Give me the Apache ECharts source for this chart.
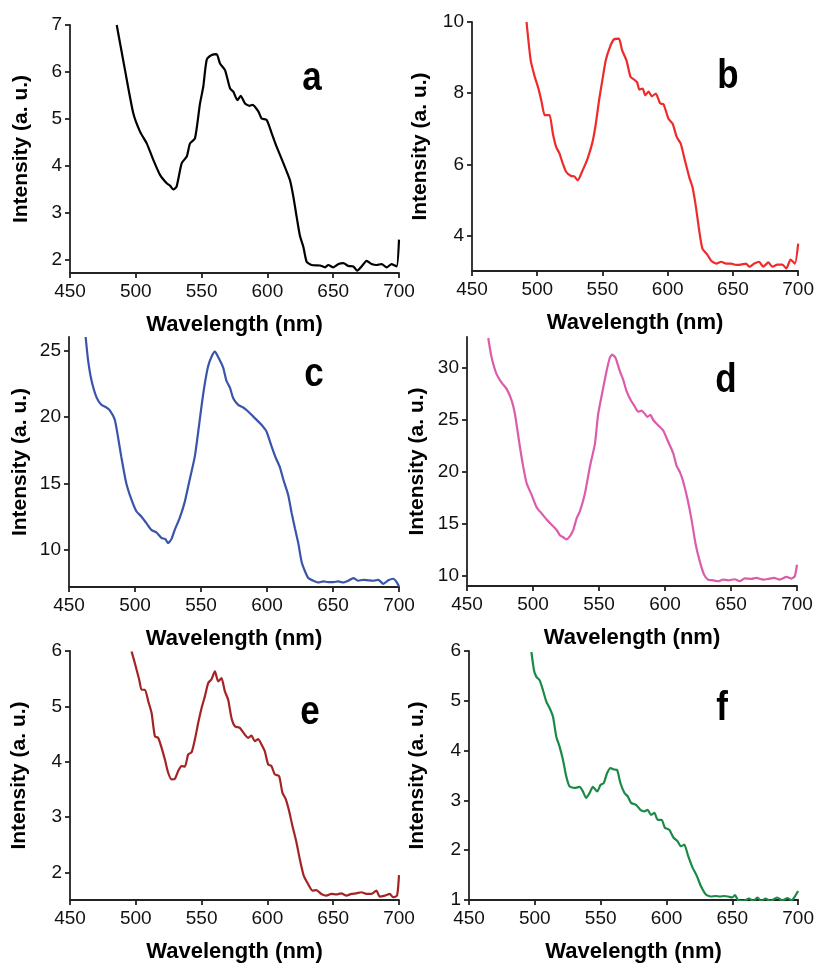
<!DOCTYPE html>
<html>
<head>
<meta charset="utf-8">
<script src="https://cdn.jsdelivr.net/npm/echarts@6/dist/echarts.min.js"></script>
<style>html,body{margin:0;padding:0;background:#fff}#c{width:817px;height:964px}</style>
</head>
<body>
<div id="c"></div>
<script>
// ---- data (wavelength nm, intensity a.u.) ----
const xTicks = [450, 500, 550, 600, 650, 700];

const waveA = [485.5,491.8,498.1,503.2,508.3,513.3,518.4,523.5,526,528.5,531,534.9,538.7,541.2,545,548.8,551.3,553.9,557.7,561.4,564,567.8,571.6,574.1,577.2,579.7,583,586.3,588.8,593.1,595.6,599.4,603.2,607,612.1,617.1,619.7,622.2,624.8,627.3,629.8,633.6,640,643.8,646.3,650.1,654,657.7,661.5,665.3,668.3,671.6,675.4,679.2,683,686.8,690.6,694.4,698.2,700];
const intA = [7.0,6.04,5.12,4.73,4.48,4.13,3.81,3.63,3.58,3.50,3.56,4.06,4.2,4.48,4.59,5.33,5.69,6.26,6.36,6.38,6.18,6.04,5.65,5.58,5.40,5.49,5.33,5.28,5.30,5.16,5.01,4.98,4.70,4.41,4.06,3.70,3.35,2.92,2.50,2.28,1.96,1.89,1.88,1.84,1.89,1.84,1.91,1.93,1.87,1.86,1.77,1.86,1.98,1.91,1.89,1.91,1.84,1.91,1.86,2.43];
const yTicksA = [2, 3, 4, 5, 6, 7];

const waveB = [491.8,495,498.1,500.6,503.1,505.7,507.7,509.5,512,514.5,517.1,519.6,522.1,525.9,528.4,531,534.8,538.6,542.4,544.9,547.4,549.9,552.5,555.8,558.8,562.6,565.1,568.4,571.5,574,576.5,578.3,580.8,582.8,585.4,587.9,590.9,594.2,596.8,600.6,603.8,606.9,610,613.2,616.5,619,621.6,624.1,626.6,630.2,633.5,637.2,641,644.8,648.6,652.4,656.2,660,662.6,666.4,670.1,673.2,677.2,680.3,684.1,687.9,690.9,694.2,697.5,700];
const intB = [10.0,8.92,8.46,8.17,7.80,7.38,7.38,7.38,6.86,6.49,6.30,6.02,5.79,5.67,5.66,5.55,5.83,6.16,6.63,7.14,7.80,8.36,8.92,9.30,9.51,9.53,9.20,8.92,8.46,8.39,8.31,8.10,8.13,7.94,8.04,7.91,7.99,7.71,7.69,7.28,7.14,6.77,6.58,6.11,5.64,5.36,4.81,4.15,3.63,3.47,3.28,3.21,3.26,3.21,3.21,3.17,3.18,3.21,3.12,3.21,3.26,3.12,3.24,3.12,3.18,3.18,3.07,3.32,3.21,3.77];
const yTicksB = [4, 6, 8, 10];

const waveC = [462.6,464.4,466.9,470.7,474.5,478.3,480.8,484.6,487.1,489.6,493.4,497.2,501,504.8,508.6,512.4,516.2,520,523,525,527.6,530.1,533.9,537.7,541.5,545.3,547.8,550.4,552.9,555.4,557.9,560.5,563,566.8,569.3,571.9,574.4,578.2,582,585.7,590.8,595.8,599.6,603.4,606.7,609.8,612.3,616.1,618.6,621.2,623.7,626.2,628.7,631.3,635.1,638.8,642.6,646.4,650.2,654,657.8,661.6,665.4,669.2,673,676.8,680.5,684.3,688.1,691.9,695.7,698.2,700];
const intC = [26.0,24.3,22.8,21.5,20.9,20.7,20.5,19.8,18.5,17.0,15.0,13.8,12.9,12.5,12.0,11.5,11.3,10.9,10.8,10.5,10.8,11.5,12.4,13.6,15.3,17.0,18.8,20.8,22.5,23.8,24.5,24.9,24.5,23.7,22.7,22.2,21.4,20.9,20.7,20.4,19.9,19.4,18.9,17.8,16.9,16.2,15.3,14.1,12.8,11.6,10.5,9.1,8.4,7.87,7.67,7.54,7.62,7.57,7.57,7.62,7.54,7.67,7.87,7.67,7.74,7.70,7.67,7.74,7.44,7.70,7.82,7.57,7.24];
const yTicksC = [10, 15, 20, 25];

const waveD = [466.1,468.2,469.9,472.5,476.2,480,483.8,486.3,490.1,492.6,495.2,498.9,502.7,506.5,510.3,514.1,517.9,520.4,522.9,525.4,528,530.5,533,535.5,539.3,543.1,546.9,549.4,553.2,555.7,558.2,560,562.5,565.8,568.3,570.8,574.1,577.1,579.7,582.2,584.7,586.7,589,591,594.8,598.6,602.4,606.2,608.7,611.2,613.7,617,620.1,623.1,626.3,629.6,632.6,636.4,640.2,644,647.8,652.8,656.6,660.4,665.4,669.2,674.3,678.1,682.6,686.9,692,695.8,698.3,700];
const intD = [32.9,31.3,30.4,29.4,28.6,28.0,26.9,25.6,22.4,20.5,18.9,17.8,16.6,16.0,15.4,14.9,14.4,13.9,13.7,13.5,13.8,14.4,15.5,16.2,17.9,20.5,22.7,25.6,28.1,29.7,31.0,31.3,31.0,29.7,28.9,27.8,26.9,26.3,25.8,25.9,25.6,25.3,25.5,25.0,24.5,24.0,22.9,21.8,20.6,20.0,19.1,17.4,15.4,13.1,11.4,10.1,9.62,9.55,9.46,9.62,9.55,9.65,9.46,9.74,9.68,9.78,9.62,9.68,9.78,9.62,9.87,9.71,9.94,11.05];
const yTicksD = [10, 15, 20, 25, 30];

const waveE = [496.8,498.6,500.6,502.6,504.4,506.9,509.5,512,514.5,517,519.6,522.1,524.6,527.2,529.7,532.2,534.8,537.3,539.8,542.4,544.9,547.4,550,552.5,555,557.5,560.1,562.6,565.1,567.7,570.2,572.7,575.3,579,582.8,585.4,587.9,590.4,593,595.5,598,600.6,603.1,605.6,608.9,611.4,614,616.5,619,622.1,624.6,627.6,630.9,634.2,637.2,641,644.8,648.6,652.4,656.2,660,663.8,667.6,671.4,675.2,679,682.8,685.4,689.2,693,695.5,698.5,700];
const intE = [5.99,5.84,5.66,5.48,5.30,5.30,5.09,4.88,4.46,4.43,4.25,4.04,3.80,3.68,3.69,3.83,3.92,3.91,4.13,4.17,4.40,4.70,4.97,5.18,5.42,5.49,5.63,5.45,5.51,5.27,5.12,4.79,4.64,4.61,4.49,4.43,4.47,4.37,4.41,4.31,4.19,3.95,3.92,3.77,3.74,3.44,3.32,3.11,2.84,2.54,2.24,1.94,1.79,1.67,1.68,1.61,1.58,1.61,1.60,1.62,1.58,1.61,1.62,1.64,1.61,1.61,1.67,1.56,1.58,1.61,1.55,1.58,1.95];
const yTicksE = [2, 3, 4, 5, 6];

const waveF = [497.4,499.4,501.2,503.7,506.2,508.8,511.3,513.8,516.3,518.8,521.4,523.9,526.4,530.2,534,536.5,539,541.6,544.1,547.4,549.9,552.4,554.9,557.5,560,562.5,565,568.1,570.6,573.1,576.9,580.2,583.2,585.7,588.2,590.8,593.3,596.3,598.8,602.1,605.4,608.4,610.9,613.5,616.5,619.8,623.1,626.1,629.9,633.7,637.4,640.7,643.7,646.8,650,652,654.6,658.5,662.7,666,669,672,675,679,684,688,692,695,697,700];
const intF = [5.98,5.61,5.48,5.41,5.21,4.98,4.85,4.68,4.28,4.08,3.81,3.48,3.28,3.25,3.27,3.18,3.05,3.15,3.27,3.18,3.31,3.35,3.55,3.65,3.62,3.61,3.35,3.15,3.08,2.95,2.91,2.81,2.78,2.81,2.71,2.75,2.61,2.61,2.45,2.41,2.25,2.18,2.08,2.11,1.88,1.65,1.48,1.28,1.11,1.07,1.08,1.07,1.08,1.07,1.05,1.10,0.99,0.98,1.03,0.98,1.05,0.98,1.03,0.98,1.05,0.99,1.04,0.99,1.05,1.18];
const yTicksF = [1, 2, 3, 4, 5, 6];

const labels = ['a', 'b', 'c', 'd', 'e', 'f'];
const colors = ['#000000', '#EE2A2A', '#3A54AA', '#DB5CAB', '#A42324', '#1C8A47'];

// ---- layout ----
const panels = [
  {w: waveA, v: intA, yt: yTicksA, min: 1.72, max: 7,  grid: {left: 70,  top: 25,  width: 329, height: 248}, lab: [312, 79],  yGap: 38},
  {w: waveB, v: intB, yt: yTicksB, min: 3,    max: 10, grid: {left: 472, top: 22,  width: 329, height: 249}, lab: [728, 77],  yGap: 41},
  {w: waveC, v: intC, yt: yTicksC, min: 7.2,  max: 26, grid: {left: 69,  top: 337, width: 330, height: 250}, lab: [314, 375], yGap: 38},
  {w: waveD, v: intD, yt: yTicksD, min: 9,    max: 33, grid: {left: 467, top: 337, width: 330, height: 249}, lab: [726, 381], yGap: 39},
  {w: waveE, v: intE, yt: yTicksE, min: 1.5,  max: 6,  grid: {left: 70,  top: 651, width: 329, height: 250}, lab: [310, 713], yGap: 40},
  {w: waveF, v: intF, yt: yTicksF, min: 1,    max: 6,  grid: {left: 469, top: 651, width: 330, height: 250}, lab: [722, 709], yGap: 41}
];

const FONT = '"Liberation Sans", Arial, Helvetica, sans-serif';
const axisLineStyle = {color: '#222', width: 1.8};

const option = {
  animation: false,
  backgroundColor: '#fff',
  grid: panels.map(p => Object.assign({containLabel: false}, p.grid)),
  xAxis: panels.map((p, i) => ({
    type: 'value', gridIndex: i, min: 450, max: 700,
    name: 'Wavelength (nm)', nameLocation: 'middle', nameGap: 41,
    nameTextStyle: {fontFamily: FONT, fontWeight: 'bold', fontSize: 22, color: '#000'},
    axisLine: {show: true, onZero: false, lineStyle: axisLineStyle},
    axisTick: {show: true, length: 5, lineStyle: axisLineStyle, customValues: xTicks},
    axisLabel: {margin: 9, fontFamily: FONT, fontSize: 19, color: '#111', customValues: xTicks, showMinLabel: true, showMaxLabel: true},
    splitLine: {show: false}
  })),
  yAxis: panels.map((p, i) => ({
    type: 'value', gridIndex: i, min: p.min, max: p.max,
    name: 'Intensity (a. u.)', nameLocation: 'middle', nameGap: p.yGap, nameRotate: 90,
    nameTextStyle: {fontFamily: FONT, fontWeight: 'bold', fontSize: 21, color: '#000'},
    axisLine: {show: true, onZero: false, lineStyle: axisLineStyle},
    axisTick: {show: true, length: 5, lineStyle: axisLineStyle, customValues: p.yt},
    axisLabel: {margin: 8, fontFamily: FONT, fontSize: 19, color: '#111', customValues: p.yt},
    splitLine: {show: false}
  })),
  series: panels.map((p, i) => ({
    type: 'line', xAxisIndex: i, yAxisIndex: i,
    data: p.w.map((w, k) => [w, p.v[k]]),
    showSymbol: false, smooth: 0.2, clip: true,
    lineStyle: {color: colors[i], width: 2.2},
    itemStyle: {color: colors[i]}
  })),
  graphic: panels.map((p, i) => ({
    type: 'text', x: p.lab[0], y: p.lab[1], scaleY: 1.18,
    style: {text: labels[i], fontFamily: FONT, fontWeight: 'bold', fontSize: 35, fill: '#000', textAlign: 'center', textVerticalAlign: 'middle'}
  }))
};

const chart = echarts.init(document.getElementById('c'), null, {renderer: 'canvas'});
chart.setOption(option);
</script>
</body>
</html>
